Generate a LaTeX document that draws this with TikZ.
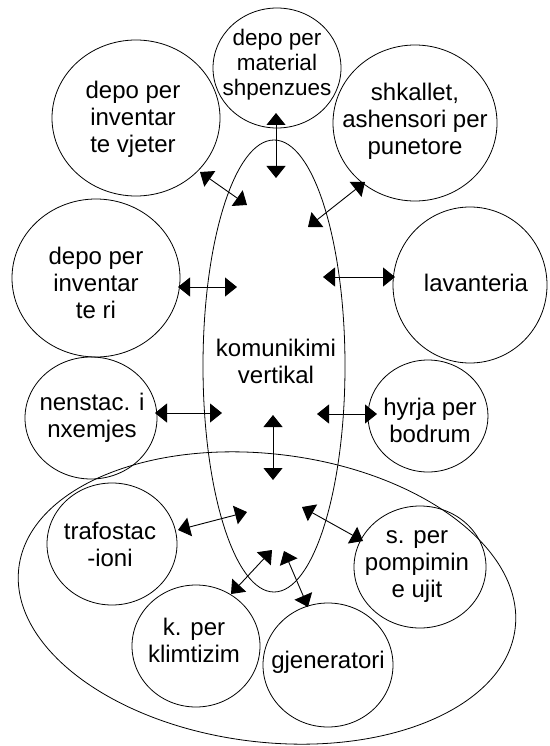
\documentclass[tikz,border=0pt]{standalone}
\usepackage{fontspec}
\setmainfont{Liberation Sans}
\usetikzlibrary{shapes.geometric,arrows.meta}
\begin{document}
\begin{tikzpicture}[x=1pt,y=-1pt,
  bub/.style={draw, ellipse, inner sep=0pt, line width=0.8pt},
  txt/.style={align=center, font=\fontsize{24}{27}\selectfont, inner sep=0pt},
  smalltxt/.style={align=center, font=\fontsize{22.5}{25}\selectfont, inner sep=0pt},
  dbl/.style={{Triangle[length=12pt,width=19pt]}-{Triangle[length=12pt,width=19pt]}, line width=0.9pt}]
\useasboundingbox (0,0) rectangle (549,746);

% shapes
\node[bub, minimum width=500pt, minimum height=288pt, rotate=-7] (bas) at (267,598) {};
\node[bub, minimum width=142pt, minimum height=452pt] (kom) at (274,366) {};
\node[bub, minimum width=128pt, minimum height=120pt] (mat) at (277,68) {};
\node[bub, minimum width=168pt, minimum height=156pt] (vje) at (136,118) {};
\node[bub, minimum width=164pt, minimum height=156pt] (shk) at (415,123) {};
\node[bub, minimum width=168pt, minimum height=158pt] (ter) at (96,278) {};
\node[bub, minimum width=154pt, minimum height=156pt] (lav) at (470,285) {};
\node[bub, minimum width=132pt, minimum height=122pt] (nen) at (91,418) {};
\node[bub, minimum width=120pt, minimum height=112pt] (hyr) at (428,416) {};
\node[bub, minimum width=130pt, minimum height=122pt] (tra) at (112,544) {};
\node[bub, minimum width=128pt, minimum height=122pt] (kli) at (196,646) {};
\node[bub, minimum width=130pt, minimum height=124pt] (gje) at (328,665) {};
\node[bub, minimum width=132pt, minimum height=122pt] (pom) at (420,567) {};

% texts
\node[smalltxt] (matt) at (277,65) {depo per\\material\\shpenzues};
\node[txt] (vjet) at (133,119) {depo per\\inventar\\te vjeter};
\node[txt] (shkt) at (415,121) {shkallet,\\ashensori per\\punetore};
\node[txt] (tert) at (96,283) {depo per\\inventar\\te ri};
\node[txt] (lavt) at (476,283) {lavanteria};
\node[txt] (komt) at (276,361) {komunikimi\\vertikal};
\node[txt] (nent) at (92,418) {nenstac. i\\nxemjes};
\node[txt] (hyrt) at (430,420) {hyrja per\\bodrum};
\node[txt] (trat) at (110,544) {trafostac\\-ioni};
\node[txt] (klit) at (194,640) {k. per\\klimtizim};
\node[txt] (gjet) at (328,662) {gjeneratori};
\node[txt] (pomt) at (417,567) {s. per\\pompimin\\e ujit};

% arrow ends
\coordinate (a1o) at (276,113); \coordinate (a1i) at (276,178);
\coordinate (a2o) at (200,172); \coordinate (a2i) at (247,205);
\coordinate (a3o) at (365,182); \coordinate (a3i) at (308,227);
\coordinate (a4o) at (178,287); \coordinate (a4i) at (237,287);
\coordinate (a5o) at (395,277); \coordinate (a5i) at (323,277);
\coordinate (a6o) at (155,413); \coordinate (a6i) at (222,413);
\coordinate (a7o) at (377,414); \coordinate (a7i) at (317,414);
\coordinate (a8o) at (273,415); \coordinate (a8i) at (273,480);
\coordinate (a9o) at (178,530); \coordinate (a9i) at (247,512);
\coordinate (a10o) at (363,541); \coordinate (a10i) at (302,507);
\coordinate (a11o) at (231,594); \coordinate (a11i) at (272,550);
\coordinate (a12o) at (308,607); \coordinate (a12i) at (284,551);

\draw[dbl] (a1o) -- (a1i);
\draw[dbl] (a2o) -- (a2i);
\draw[dbl] (a3o) -- (a3i);
\draw[dbl] (a4o) -- (a4i);
\draw[dbl] (a5o) -- (a5i);
\draw[dbl] (a6o) -- (a6i);
\draw[dbl] (a7o) -- (a7i);
\draw[dbl] (a8o) -- (a8i);
\draw[dbl] (a9o) -- (a9i);
\draw[dbl] (a10o) -- (a10i);
\draw[dbl] (a11o) -- (a11i);
\draw[dbl] (a12o) -- (a12i);
\end{tikzpicture}
\end{document}
